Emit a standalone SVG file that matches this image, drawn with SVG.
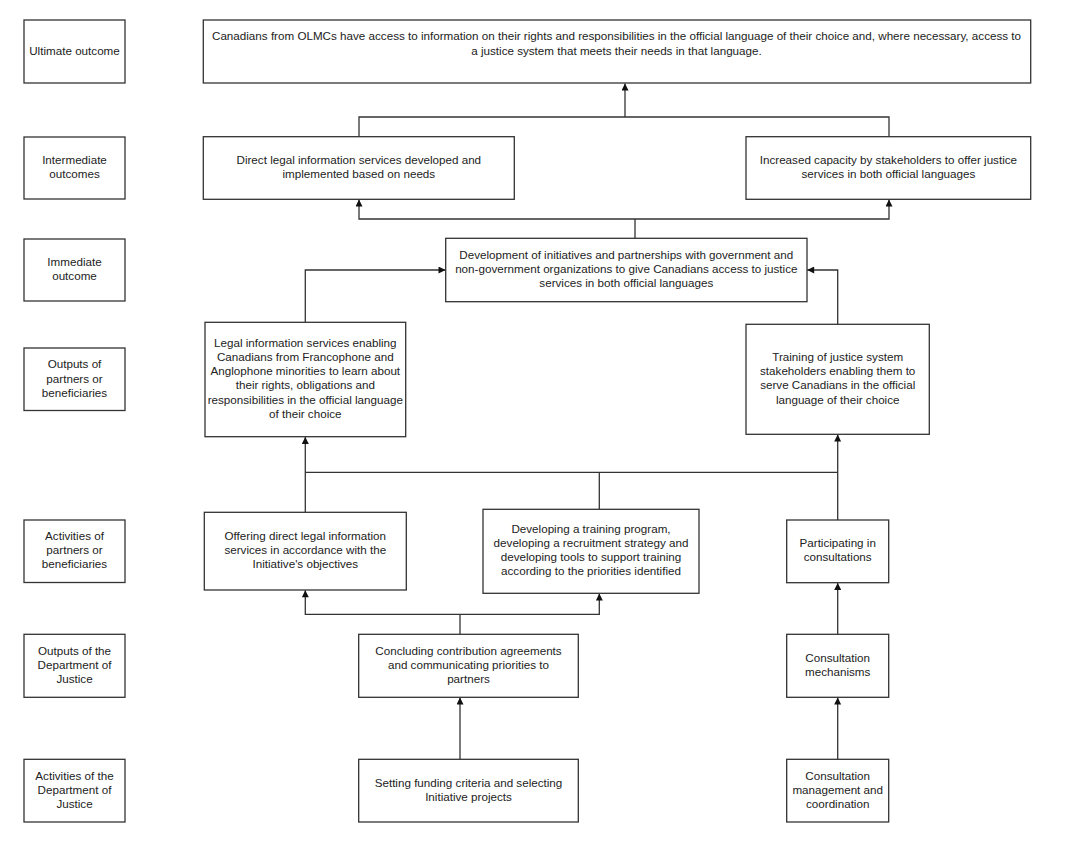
<svg xmlns="http://www.w3.org/2000/svg" width="1067" height="845" viewBox="0 0 1067 845">
<style>
.box{fill:#fff;stroke:#333;stroke-width:1.3}
.t{font-family:"Liberation Sans",Arial,sans-serif;font-size:11.65px;fill:#222;text-anchor:middle}
.c{fill:none;stroke:#333;stroke-width:1.3}
</style>
<defs>
<marker id="ah" viewBox="0 0 10 10" refX="10" refY="5" markerWidth="8" markerHeight="7" orient="auto" markerUnits="userSpaceOnUse">
<path d="M0,0 L10,5 L0,10 Z" fill="#111"/>
</marker>
</defs>
<rect width="1067" height="845" fill="#fff"/>

<g id="labels">
<g id="lbl-ultimate"><rect class="box" x="24" y="20" width="101" height="63"/><text class="t" x="74.5" y="54.6">Ultimate outcome</text></g>
<g id="lbl-intermediate"><rect class="box" x="24" y="137" width="101" height="62"/><text class="t" x="74.5" y="164">Intermediate</text><text class="t" x="74.5" y="178">outcomes</text></g>
<g id="lbl-immediate"><rect class="box" x="24" y="239" width="101" height="62"/><text class="t" x="74.5" y="265.7">Immediate</text><text class="t" x="74.5" y="280">outcome</text></g>
<g id="lbl-outputs-partners"><rect class="box" x="24" y="348" width="101" height="62.5"/><text class="t" x="74.5" y="368">Outputs of</text><text class="t" x="74.5" y="382.5">partners or</text><text class="t" x="74.5" y="396.5">beneficiaries</text></g>
<g id="lbl-activities-partners"><rect class="box" x="24" y="520" width="101" height="62.5"/><text class="t" x="74.5" y="540">Activities of</text><text class="t" x="74.5" y="554">partners or</text><text class="t" x="74.5" y="568">beneficiaries</text></g>
<g id="lbl-outputs-dept"><rect class="box" x="24" y="634.3" width="101" height="63"/><text class="t" x="74.5" y="655">Outputs of the</text><text class="t" x="74.5" y="669">Department of</text><text class="t" x="74.5" y="683">Justice</text></g>
<g id="lbl-activities-dept"><rect class="box" x="24" y="759.3" width="101" height="62.7"/><text class="t" x="74.5" y="779.7">Activities of the</text><text class="t" x="74.5" y="794">Department of</text><text class="t" x="74.5" y="807.7">Justice</text></g>
</g>

<g id="connectors">
<path class="c" d="M625,117 L625,83.5" marker-end="url(#ah)"/>
<path class="c" d="M359,137 L359,117 L889,117 L889,137"/>
<path class="c" d="M635,238.5 L635,219"/>
<path class="c" d="M635,219 L359,219 L359,199.5" marker-end="url(#ah)"/>
<path class="c" d="M635,219 L889,219 L889,199.5" marker-end="url(#ah)"/>
<path class="c" d="M305.3,322.3 L305.3,270 L445.5,270" marker-end="url(#ah)"/>
<path class="c" d="M837.7,324.3 L837.7,270 L807.2,270" marker-end="url(#ah)"/>
<path class="c" d="M305.3,512.3 L305.3,437" marker-end="url(#ah)"/>
<path class="c" d="M837.7,520 L837.7,434.6" marker-end="url(#ah)"/>
<path class="c" d="M305.3,472.3 L837.7,472.3"/>
<path class="c" d="M599.3,509.3 L599.3,472.3"/>
<path class="c" d="M460,634.3 L460,614.3"/>
<path class="c" d="M460,614.3 L305.3,614.3 L305.3,590.3" marker-end="url(#ah)"/>
<path class="c" d="M460,614.3 L599.3,614.3 L599.3,593.6" marker-end="url(#ah)"/>
<path class="c" d="M460,759.3 L460,697.6" marker-end="url(#ah)"/>
<path class="c" d="M837.7,759.3 L837.7,697.6" marker-end="url(#ah)"/>
<path class="c" d="M837.7,634.3 L837.7,583" marker-end="url(#ah)"/>
</g>

<g id="ultimate">
<rect class="box" x="203.3" y="20" width="827.4" height="63"/>
<text class="t" x="616.5" y="40">Canadians from OLMCs have access to information on their rights and responsibilities in the official language of their choice and, where necessary, access to</text>
<text class="t" x="616.5" y="54.5">a justice system that meets their needs in that language.</text>
</g>
<g id="intermediate-left">
<rect class="box" x="203.3" y="136.7" width="311" height="62.6"/>
<text class="t" x="358.8" y="164">Direct legal information services developed and</text>
<text class="t" x="358.8" y="178">implemented based on needs</text>
</g>
<g id="intermediate-right">
<rect class="box" x="746" y="136.7" width="284.7" height="62.6"/>
<text class="t" x="888.4" y="164">Increased capacity by stakeholders to offer justice</text>
<text class="t" x="888.4" y="178">services in both official languages</text>
</g>
<g id="immediate">
<rect class="box" x="445.7" y="238.3" width="361.3" height="63.4"/>
<text class="t" x="626.3" y="259">Development of initiatives and partnerships with government and</text>
<text class="t" x="626.3" y="273.3">non-government organizations to give Canadians access to justice</text>
<text class="t" x="626.3" y="287.3">services in both official languages</text>
</g>
<g id="output-legal">
<rect class="box" x="205" y="322.3" width="200.7" height="114.4"/>
<text class="t" x="305.3" y="347.3">Legal information services enabling</text>
<text class="t" x="305.3" y="361.3">Canadians from Francophone and</text>
<text class="t" x="305.3" y="375.3">Anglophone minorities to learn about</text>
<text class="t" x="305.3" y="389.3">their rights, obligations and</text>
<text class="t" x="305.3" y="403.7">responsibilities in the official language</text>
<text class="t" x="305.3" y="417.7">of their choice</text>
</g>
<g id="output-training">
<rect class="box" x="746" y="324.3" width="183.3" height="110"/>
<text class="t" x="837.7" y="361.3">Training of justice system</text>
<text class="t" x="837.7" y="375.3">stakeholders enabling them to</text>
<text class="t" x="837.7" y="389.3">serve Canadians in the official</text>
<text class="t" x="837.7" y="403.7">language of their choice</text>
</g>
<g id="activity-offering">
<rect class="box" x="204.3" y="512.3" width="202" height="77.7"/>
<text class="t" x="305.3" y="540">Offering direct legal information</text>
<text class="t" x="305.3" y="554">services in accordance with the</text>
<text class="t" x="305.3" y="568">Initiative's objectives</text>
</g>
<g id="activity-developing">
<rect class="box" x="483" y="509.3" width="216" height="84"/>
<text class="t" x="591" y="532.7">Developing a training program,</text>
<text class="t" x="591" y="547">developing a recruitment strategy and</text>
<text class="t" x="591" y="561.3">developing tools to support training</text>
<text class="t" x="591" y="575.3">according to the priorities identified</text>
</g>
<g id="activity-participating">
<rect class="box" x="786.7" y="520" width="102" height="62.7"/>
<text class="t" x="837.7" y="547">Participating in</text>
<text class="t" x="837.7" y="561.3">consultations</text>
</g>
<g id="output-concluding">
<rect class="box" x="358.7" y="634.3" width="219.6" height="63"/>
<text class="t" x="468.5" y="655">Concluding contribution agreements</text>
<text class="t" x="468.5" y="669">and communicating priorities to</text>
<text class="t" x="468.5" y="683">partners</text>
</g>
<g id="output-consultation">
<rect class="box" x="786.7" y="634.3" width="102" height="63"/>
<text class="t" x="837.7" y="661.7">Consultation</text>
<text class="t" x="837.7" y="676">mechanisms</text>
</g>
<g id="activity-funding">
<rect class="box" x="358.7" y="759.3" width="219.6" height="62.7"/>
<text class="t" x="468.5" y="786.7">Setting funding criteria and selecting</text>
<text class="t" x="468.5" y="801">Initiative projects</text>
</g>
<g id="activity-consultation">
<rect class="box" x="786.7" y="759.3" width="102" height="62.7"/>
<text class="t" x="837.7" y="780">Consultation</text>
<text class="t" x="837.7" y="794">management and</text>
<text class="t" x="837.7" y="807.7">coordination</text>
</g>
</svg>
